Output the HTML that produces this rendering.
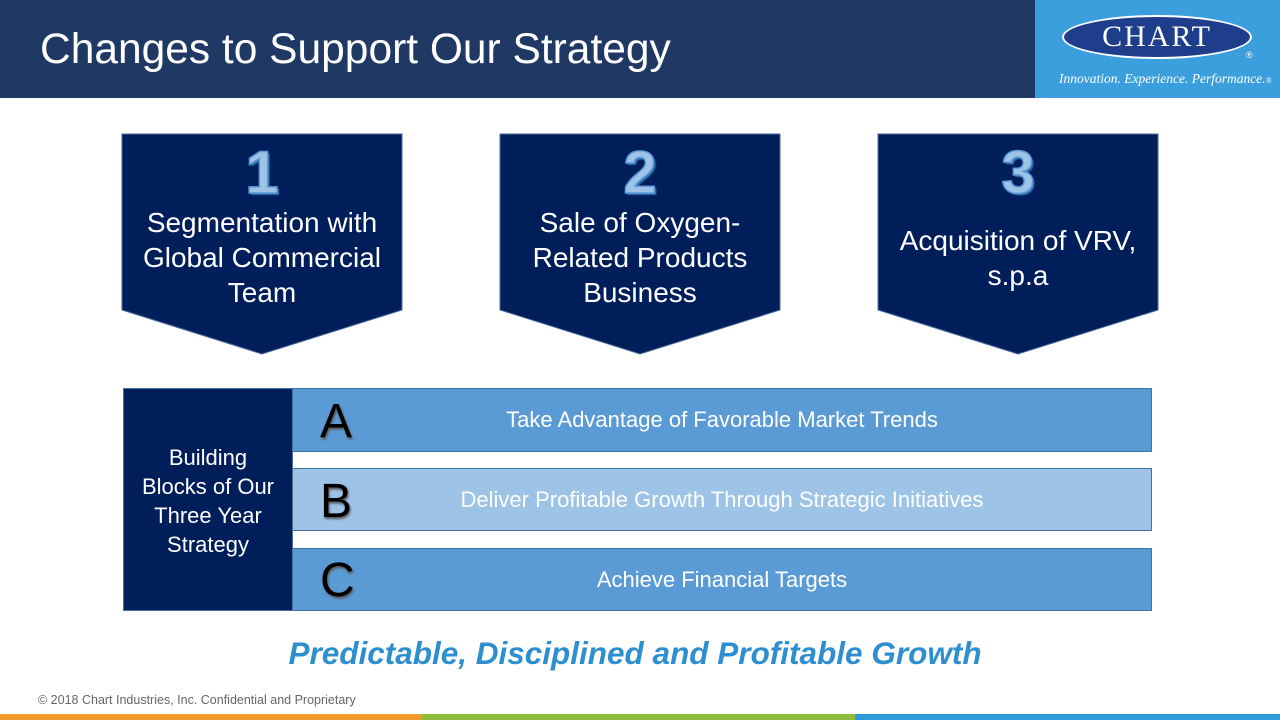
<!DOCTYPE html>
<html><head><meta charset="utf-8"><style>
body{margin:0;width:1280px;height:720px;position:relative;background:#fff;font-family:"Liberation Sans",sans-serif;overflow:hidden}
.abs{position:absolute}
.num{font-weight:bold;font-size:60px;color:#9dc3e6;-webkit-text-stroke:1.5px #5b9bd5;text-shadow:2px 2px 1px #2e6fb0;text-align:center}
.t{color:#fff;font-size:28px;text-align:center;line-height:35px}
.bar{position:absolute;left:292px;width:860px;height:62px;border:1px solid #41719c;color:#fff;font-size:22px;display:flex;align-items:center;justify-content:center;box-sizing:border-box}
.let{position:absolute;left:320px;font-size:48px;color:#000;text-shadow:1px 2px 2px #555}
</style></head><body>
<div class="abs" style="left:0;top:0;width:1035px;height:98px;background:#203864"></div>
<div class="abs" style="left:40px;top:26px;color:#fff;font-size:42.5px">Changes to Support Our Strategy</div>
<div class="abs" style="left:1035px;top:0;width:245px;height:98px;background:#3a9fdc"></div>
<div class="abs" style="left:1062px;top:15px;width:190px;height:44px;border-radius:50%;background:#1e3d8a;border:2px solid #fff;box-sizing:border-box;color:#fff;font-family:'Liberation Serif',serif;font-size:30px;text-align:center;line-height:40px;letter-spacing:2px">CHART</div>
<div class="abs" style="left:1246px;top:50px;color:#fff;font-size:9px">®</div>
<div class="abs" style="left:1059px;top:71px;color:#fff;font-family:'Liberation Serif',serif;font-style:italic;font-size:13.5px;white-space:nowrap">Innovation. Experience. Performance.<span style="font-size:8px">®</span></div>
<svg class="abs" style="left:0;top:0" width="1280" height="720">
<polygon points="122,134 402,134 402,310 262,354 122,310" fill="#001e5a" stroke="#4a6c9c"/>
<polygon points="500,134 780,134 780,310 640,354 500,310" fill="#001e5a" stroke="#4a6c9c"/>
<polygon points="878,134 1158,134 1158,310 1018,354 878,310" fill="#001e5a" stroke="#4a6c9c"/>
</svg>
<div class="abs num" style="left:122px;top:138px;width:280px">1</div>
<div class="abs num" style="left:500px;top:138px;width:280px">2</div>
<div class="abs num" style="left:878px;top:138px;width:280px">3</div>
<div class="abs t" style="left:122px;top:205px;width:280px">Segmentation with Global Commercial Team</div>
<div class="abs t" style="left:500px;top:205px;width:280px">Sale of Oxygen-Related Products Business</div>
<div class="abs t" style="left:878px;top:223px;width:280px">Acquisition of VRV, s.p.a</div>
<div class="abs" style="left:123px;top:388px;width:170px;height:223px;background:#001e5a;border:1px solid #41719c;box-sizing:border-box;color:#fff;font-size:22px;text-align:center;line-height:29px;padding:54px 10px 0">Building Blocks of Our Three Year Strategy</div>
<div class="bar" style="top:388px;background:#5b9bd5;height:64px">Take Advantage of Favorable Market Trends</div>
<div class="bar" style="top:468px;background:#9dc3e6;height:63px">Deliver Profitable Growth Through Strategic Initiatives</div>
<div class="bar" style="top:548px;background:#5b9bd5;height:63px">Achieve Financial Targets</div>
<div class="let" style="top:394px">A</div>
<div class="let" style="top:474px">B</div>
<div class="let" style="top:553px">C</div>
<div class="abs" style="left:0;top:635px;width:1270px;text-align:center;color:#2e8fd0;font-size:31.5px;font-weight:bold;font-style:italic">Predictable, Disciplined and Profitable Growth</div>
<div class="abs" style="left:38px;top:693px;color:#666;font-size:12.5px">© 2018 Chart Industries, Inc. Confidential and Proprietary</div>
<div class="abs" style="left:0;top:714px;width:422px;height:6px;background:#f39a2b"></div>
<div class="abs" style="left:422px;top:714px;width:433px;height:6px;background:#8dbb3a"></div>
<div class="abs" style="left:855px;top:714px;width:425px;height:6px;background:#2e9ad6"></div>
</body></html>
